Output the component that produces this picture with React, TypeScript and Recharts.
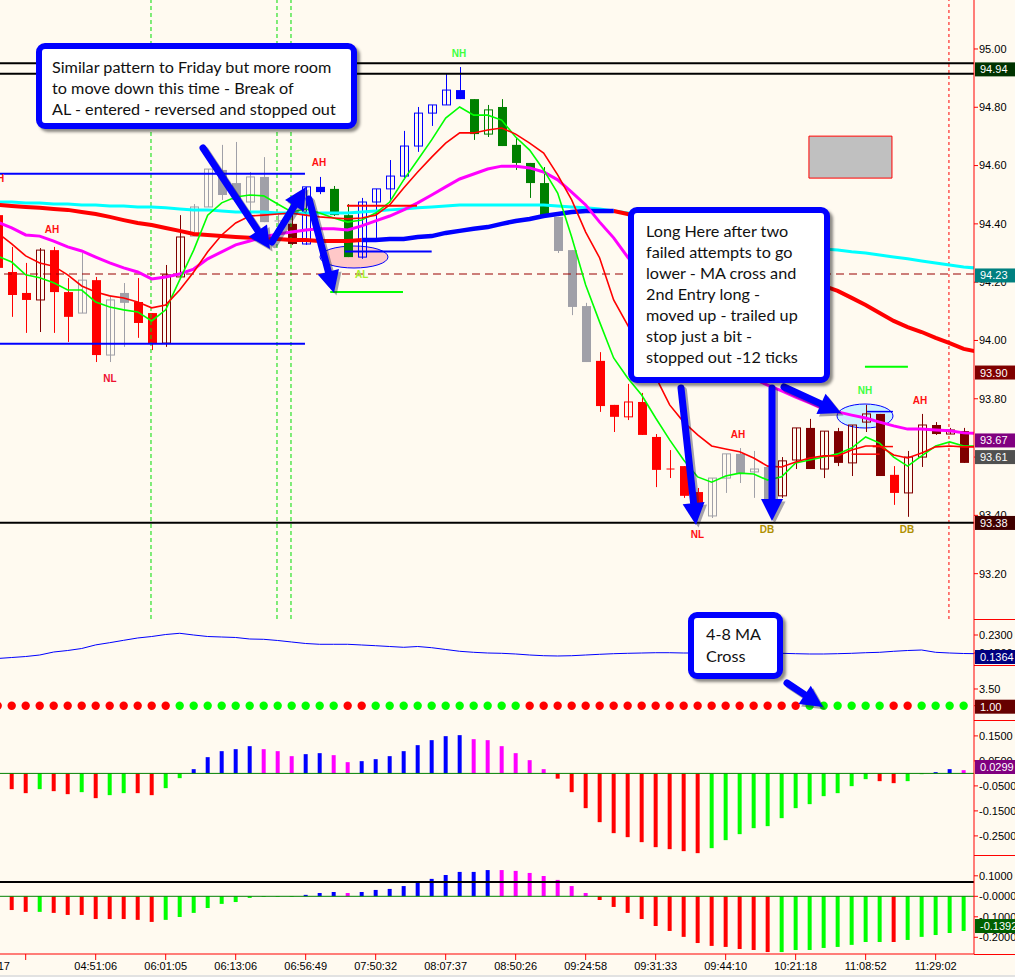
import React from 'react';
import { ComposedChart, Line, Bar, Cell, XAxis, YAxis, ReferenceLine, ReferenceDot, ReferenceArea } from 'recharts';

// ---- price bars (index 0 is the half-hidden bar at the left edge) ----
const opens = [
  94.430, 94.235, 94.163, 94.139, 94.310, 94.166, 94.094, 94.207, 93.950, 94.163,
  94.132, 94.094, 93.991, 94.218, 94.358, 94.458, 94.585, 94.540, 94.475, 94.561,
  94.410, 94.400, 94.331, 94.527, 94.520, 94.430, 94.286, 94.475, 94.520, 94.564,
  94.667, 94.780, 94.808, 94.859, 94.828, 94.708, 94.801, 94.671, 94.609, 94.540,
  94.424, 94.310, 94.118, 93.930, 93.779, 93.738, 93.789, 93.669, 93.559, 93.569,
  93.480, 93.398, 93.528, 93.611, 93.549, 93.566, 93.467, 93.590, 93.700, 93.559,
  93.689, 93.580, 93.720, 93.748, 93.539, 93.477, 93.600, 93.710, 93.679, 93.689,
];
const highs = [
  94.441, 94.321, 94.266, 94.317, 94.321, 94.214, 94.300, 94.218, 94.156, 94.197,
  94.214, 94.094, 94.259, 94.430, 94.468, 94.588, 94.671, 94.681, 94.578, 94.629,
  94.438, 94.496, 94.527, 94.561, 94.530, 94.468, 94.489, 94.520, 94.619, 94.719,
  94.801, 94.808, 94.914, 94.938, 94.828, 94.808, 94.828, 94.698, 94.609, 94.595,
  94.424, 94.310, 94.129, 93.960, 93.779, 93.851, 93.820, 93.679, 93.624, 93.569,
  93.494, 93.528, 93.611, 93.631, 93.621, 93.566, 93.600, 93.700, 93.731, 93.689,
  93.700, 93.710, 93.779, 93.748, 93.569, 93.621, 93.748, 93.720, 93.700, 93.700,
];
const lows = [
  94.225, 94.081, 94.026, 94.029, 94.026, 93.995, 94.094, 93.926, 93.926, 93.978,
  94.009, 93.967, 93.978, 94.218, 94.358, 94.458, 94.482, 94.472, 94.406, 94.406,
  94.372, 94.328, 94.328, 94.502, 94.427, 94.286, 94.280, 94.345, 94.482, 94.551,
  94.647, 94.736, 94.808, 94.828, 94.688, 94.698, 94.667, 94.585, 94.489, 94.427,
  94.300, 94.087, 93.926, 93.755, 93.686, 93.727, 93.676, 93.497, 93.528, 93.460,
  93.412, 93.391, 93.477, 93.511, 93.460, 93.429, 93.460, 93.559, 93.559, 93.528,
  93.569, 93.535, 93.686, 93.535, 93.436, 93.395, 93.566, 93.676, 93.679, 93.580,
];
const closes = [
  94.249, 94.156, 94.139, 94.310, 94.166, 94.081, 94.207, 93.950, 94.139, 94.129,
  94.060, 93.991, 94.225, 94.355, 94.458, 94.588, 94.499, 94.482, 94.561, 94.406,
  94.410, 94.331, 94.527, 94.509, 94.430, 94.286, 94.475, 94.520, 94.564, 94.667,
  94.780, 94.808, 94.859, 94.828, 94.708, 94.791, 94.667, 94.609, 94.540, 94.427,
  94.307, 94.115, 93.926, 93.775, 93.738, 93.789, 93.676, 93.556, 93.559, 93.467,
  93.429, 93.528, 93.611, 93.545, 93.559, 93.456, 93.587, 93.700, 93.559, 93.689,
  93.580, 93.710, 93.748, 93.535, 93.477, 93.600, 93.710, 93.679, 93.693, 93.580,
];
// r red, m maroon, g gray, b blue, d dark green
const candleTones = 'rrrmrrgrgg' + 'rrmmgggggg' + 'gmbbddbbbb' + 'bbbbdddddd' + 'gggrrrrrrr' + 'rgggggmmmm' + 'mmmmrmmmmm';

// ---- moving averages on the price panel (last value is where each line meets the axis) ----
const fastMa = [
  94.289, 94.269, 94.225, 94.215, 94.198, 94.173, 94.173, 94.132, 94.115, 94.105,
  94.098, 94.067, 94.105, 94.208, 94.310, 94.430, 94.472, 94.492, 94.499, 94.496,
  94.468, 94.441, 94.451, 94.437, 94.420, 94.406, 94.413, 94.437, 94.475, 94.551,
  94.619, 94.688, 94.763, 94.801, 94.773, 94.773, 94.756, 94.698, 94.653, 94.585,
  94.506, 94.355, 94.190, 94.063, 93.940, 93.871, 93.813, 93.734, 93.659, 93.590,
  93.532, 93.514, 93.535, 93.545, 93.542, 93.521, 93.532, 93.580, 93.590, 93.600,
  93.611, 93.631, 93.669, 93.648, 93.600, 93.569, 93.604, 93.638, 93.652, 93.638,
  93.638,
];
const midMa = [
  94.369, 94.331, 94.290, 94.266, 94.255, 94.225, 94.187, 94.166, 94.153, 94.146,
  94.132, 94.112, 94.122, 94.173, 94.235, 94.304, 94.362, 94.403, 94.427, 94.430,
  94.434, 94.437, 94.430, 94.424, 94.420, 94.417, 94.420, 94.430, 94.465, 94.523,
  94.578, 94.629, 94.677, 94.712, 94.712, 94.722, 94.729, 94.708, 94.677, 94.643,
  94.568, 94.482, 94.372, 94.283, 94.139, 94.053, 93.964, 93.875, 93.779, 93.720,
  93.676, 93.638, 93.628, 93.618, 93.597, 93.569, 93.566, 93.583, 93.597, 93.604,
  93.604, 93.624, 93.638, 93.638, 93.607, 93.597, 93.614, 93.635, 93.638, 93.635,
  93.635,
];
const magentaMa = [
  94.406, 94.386, 94.362, 94.358, 94.341, 94.321, 94.307, 94.286, 94.266, 94.249,
  94.235, 94.211, 94.218, 94.228, 94.245, 94.280, 94.304, 94.328, 94.341, 94.355,
  94.365, 94.372, 94.379, 94.383, 94.383, 94.379, 94.393, 94.410, 94.427, 94.448,
  94.472, 94.499, 94.527, 94.554, 94.571, 94.588, 94.598, 94.598, 94.592, 94.578,
  94.551, 94.509, 94.465, 94.406, 94.352, 94.286, 94.225, 94.166, 94.112, 94.060,
  94.012, 93.967, 93.930, 93.895, 93.868, 93.847, 93.827, 93.806, 93.786, 93.765,
  93.755, 93.744, 93.734, 93.720, 93.707, 93.696, 93.696, 93.693, 93.690, 93.683,
  93.681,
];
const cyanMa = [
  94.475, 94.475, 94.472, 94.472, 94.468, 94.468, 94.465, 94.465, 94.461, 94.461,
  94.458, 94.458, 94.455, 94.451, 94.448, 94.448, 94.444, 94.441, 94.441, 94.441,
  94.437, 94.437, 94.437, 94.437, 94.437, 94.437, 94.441, 94.444, 94.448, 94.451,
  94.455, 94.458, 94.461, 94.465, 94.465, 94.465, 94.465, 94.465, 94.465, 94.465,
  94.461, 94.458, 94.455, 94.451, 94.444, 94.437, 94.430, 94.424, 94.413, 94.406,
  94.396, 94.386, 94.376, 94.365, 94.355, 94.345, 94.334, 94.328, 94.321, 94.314,
  94.310, 94.304, 94.300, 94.293, 94.286, 94.280, 94.273, 94.266, 94.259, 94.252,
  94.248,
];
const slowMa = [
  94.465, 94.461, 94.458, 94.455, 94.451, 94.448, 94.441, 94.434, 94.424, 94.413,
  94.403, 94.396, 94.386, 94.376, 94.365, 94.362, 94.358, 94.355, 94.352, 94.348,
  94.348, 94.345, 94.345, 94.341, 94.341, 94.341, 94.345, 94.345, 94.348, 94.348,
  94.355, 94.358, 94.369, 94.376, 94.383, 94.389, 94.400, 94.410, 94.417, 94.427,
  94.434, 94.441, 94.444, 94.444, 94.444, 94.434, 94.420, 94.403, 94.386, 94.365,
  94.345, 94.324, 94.304, 94.283, 94.266, 94.249, 94.232, 94.214, 94.201, 94.187,
  94.170, 94.146, 94.122, 94.094, 94.067, 94.046, 94.029, 94.009, 93.991, 93.971,
  93.961,
];
const slowRisingFrom = 26;
const slowRisingTo = 44;

// ---- lower panels ----
const oscLine = [
  0.1256, 0.1300, 0.1344, 0.1411, 0.1544, 0.1611, 0.1700, 0.1860, 0.1958, 0.2064,
  0.2167, 0.2233, 0.2322, 0.2376, 0.2300, 0.2233, 0.2211, 0.2189, 0.2122, 0.2109,
  0.2056, 0.1989, 0.1922, 0.1887, 0.1887, 0.1887, 0.1856, 0.1824, 0.1789, 0.1753,
  0.1789, 0.1736, 0.1656, 0.1576, 0.1531, 0.1500, 0.1487, 0.1456, 0.1411, 0.1380,
  0.1367, 0.1380, 0.1411, 0.1442, 0.1469, 0.1487, 0.1500, 0.1513, 0.1513, 0.1500,
  0.1500, 0.1500, 0.1500, 0.1500, 0.1493, 0.1490, 0.1487, 0.1469, 0.1456, 0.1456,
  0.1469, 0.1487, 0.1513, 0.1531, 0.1576, 0.1611, 0.1633, 0.1531, 0.1500, 0.1478,
  0.1469,
];
const dotTones = 'rrrrrrrrrr' + 'rrrggggggg' + 'gggggrrggg' + 'ggggggggrr' + 'rrrrrrrrrr' + 'rrrrrrrrgg' + 'ggggrrgggg';
const hist1 = [
  -0.060, -0.063, -0.079, -0.063, -0.071, -0.083, -0.075, -0.099, -0.087, -0.079,
  -0.079, -0.087, -0.059, -0.019, 0.017, 0.065, 0.089, 0.097, 0.109, 0.097,
  0.089, 0.069, 0.077, 0.081, 0.073, 0.045, 0.049, 0.057, 0.069, 0.089,
  0.113, 0.133, 0.149, 0.153, 0.137, 0.133, 0.109, 0.081, 0.053, 0.017,
  -0.021, -0.075, -0.139, -0.195, -0.239, -0.255, -0.275, -0.295, -0.303, -0.311,
  -0.319, -0.299, -0.267, -0.243, -0.219, -0.211, -0.179, -0.139, -0.123, -0.091,
  -0.079, -0.051, -0.023, -0.031, -0.039, -0.031, -0.003, 0.005, 0.017, 0.013,
];
const hist1Tones = 'rrrgrrgrgg' + 'rrggbbbbbm' + 'mmbbmmbbbb' + 'bbbbmmmmmm' + 'rrrrrrrrrr' + 'rggggggggg' + 'gggrrggbbm';
const hist2 = [
  -0.060, -0.067, -0.076, -0.076, -0.081, -0.091, -0.091, -0.111, -0.111, -0.111,
  -0.115, -0.125, -0.115, -0.101, -0.081, -0.057, -0.037, -0.028, -0.008, -0.003,
  -0.003, -0.003, 0.007, 0.016, 0.021, 0.016, 0.021, 0.031, 0.036, 0.050,
  0.070, 0.085, 0.104, 0.119, 0.119, 0.128, 0.128, 0.124, 0.114, 0.099,
  0.080, 0.050, 0.016, -0.018, -0.052, -0.081, -0.111, -0.145, -0.169, -0.198,
  -0.228, -0.242, -0.247, -0.257, -0.262, -0.272, -0.272, -0.262, -0.262, -0.252,
  -0.247, -0.237, -0.223, -0.223, -0.223, -0.213, -0.198, -0.189, -0.179, -0.169,
];
const hist2Tones = 'rrrgrrrrrr' + 'rrgggggggg' + 'ggbbbmbbbb' + 'bbbbbbmmmm' + 'mmmrrrrrrr' + 'rrrrrrgggg' + 'ggggrggggg';

// ---- axes ----
const priceTicks = [95, 94.8, 94.6, 94.4, 94.2, 94, 93.8, 93.6, 93.4, 93.2];
const oscTicks = [0.23, 0.15];
const dotTicks = [3.5, 1];
const hist1Ticks = [0.15, 0.05, -0.05, -0.15, -0.25];
const hist2Ticks = [0.1, 0, -0.1, -0.2];
const timeTicks = [2, 7, 12, 17, 22, 27, 32, 37, 42, 47, 52, 57, 62, 67];
const timeLabels = ['', '04:51:06', '06:01:05', '06:13:06', '06:56:49', '07:50:32', '08:07:37', '08:50:26', '09:24:58', '09:31:33', '09:44:10', '10:21:18', '11:08:52', '11:29:02'];

// ---- drawn objects on the price panel (bar index / price) ----
const sessionBreaks = [10.95, 19.95, 20.95];
const lastSessionBreak = 67.95;
const levels = [
  { y: 94.951, color: '#000000', width: 2, dash: undefined },
  { y: 94.915, color: '#000000', width: 2, dash: undefined },
  { y: 93.375, color: '#000000', width: 2, dash: undefined },
  { y: 94.228, color: '#990000', width: 1.2, dash: '8 5' },
];
const segments = [
  { x1: 0.164, x2: 21.95, y: 94.572, color: '#0000ff', width: 2 },
  { x1: 0.164, x2: 21.95, y: 93.989, color: '#0000ff', width: 2 },
  { x1: 24.8, x2: 31.0, y: 94.305, color: '#0000ff', width: 2 },
  { x1: 24.95, x2: 29.95, y: 94.462, color: '#ff0000', width: 2 },
  { x1: 23.75, x2: 28.95, y: 94.166, color: '#00ff00', width: 2 },
  { x1: 61.95, x2: 65.02, y: 93.910, color: '#00ff00', width: 2 },
  { x1: 61.0, x2: 63.0, y: 93.610, color: '#ff0000', width: 1.5 },
  { x1: 62.5, x2: 63.95, y: 93.636, color: '#ff0000', width: 1.5 },
  { x1: 62.1, x2: 63.95, y: 93.756, color: '#0000ff', width: 1.5 },
];
const grayBox = { x1: 57.95, x2: 63.88, y1: 94.557, y2: 94.701 };
const tags = [
  { i: -0.05, p: 94.554, text: 'AH', color: '#ff1010' },
  { i: 3.88, p: 94.379, text: 'AH', color: '#ff1010' },
  { i: 8.02, p: 93.871, text: 'NL', color: '#ee1030' },
  { i: 22.95, p: 94.612, text: 'AH', color: '#ff1010' },
  { i: 26.0, p: 94.228, text: 'AL', color: '#a8f030' },
  { i: 32.95, p: 94.986, text: 'NH', color: '#40ff40' },
  { i: 49.99, p: 93.336, text: 'NL', color: '#ff1010' },
  { i: 52.88, p: 93.679, text: 'AH', color: '#ff1010' },
  { i: 54.95, p: 93.352, text: 'DB', color: '#b09000' },
  { i: 61.95, p: 93.830, text: 'NH', color: '#40ff40' },
  { i: 64.95, p: 93.352, text: 'DB', color: '#b09000' },
  { i: 65.88, p: 93.793, text: 'AH', color: '#ff1010' },
];
const priceFlags = [
  { level: 94.930, text: '94.94', bg: '#003300' },
  { level: 94.223, text: '94.23', bg: '#008080' },
  { level: 93.890, text: '93.90', bg: '#800000' },
  { level: 93.657, text: '93.67', bg: '#800080' },
  { level: 93.600, text: '93.61', bg: '#505050' },
  { level: 93.374, text: '93.38', bg: '#400000' },
];
const oscFlags = [{ level: 0.1322, text: '0.1364', bg: '#000080' }];
const dotFlags = [{ level: 0.85, text: '1.00', bg: '#660000' }];
const hist1Flags = [{ level: 0.0256, text: '0.0299', bg: '#800080' }];
const hist2Flags = [{ level: -0.145, text: '-0.1392', bg: '#006000' }];
const hist2Guide = 0.07;

const BAR_COUNT = opens.length;
const rows = fastMa.map((fast, i) => {
  const bar = i < BAR_COUNT;
  return {
    i,
    range: bar ? [lows[i], highs[i]] : null,
    open: opens[i],
    high: highs[i],
    low: lows[i],
    close: closes[i],
    tone: candleTones[i],
    fast,
    mid: midMa[i],
    magenta: magentaMa[i],
    cyan: cyanMa[i],
    slowRed: i <= slowRisingFrom || i >= slowRisingTo ? slowMa[i] : null,
    slowBlue: i >= slowRisingFrom && i <= slowRisingTo ? slowMa[i] : null,
    osc: oscLine[i],
    dot: bar ? 1 : null,
    dotTone: dotTones[i],
    h1: bar ? hist1[i] : null,
    h1Tone: hist1Tones[i],
    h2: bar ? hist2[i] : null,
    h2Tone: hist2Tones[i],
  };
});

const W = 1015;
const AXIS_W = 41;
const BG = '#fffaf0';
const AXIS_FONT = '"Liberation Sans", Arial, sans-serif';
const X_DOMAIN: [number, number] = [0.164, 69.74];
const CANDLE_COLORS: Record<string, string> = { r: '#ff0000', m: '#800000', g: '#a0a0a8', b: '#0000ff', d: '#008000' };
const OSC_COLORS: Record<string, string> = { r: '#ff0000', g: '#00ff00', b: '#0000ff', m: '#ff00ff' };
const MARGIN = { top: 0, right: 0, bottom: 0, left: 0 };

function Candle(props: any) {
  const { x, y, width, height, payload } = props;
  if (x == null || y == null || payload == null || payload.high == null) return null;
  const color = CANDLE_COLORS[payload.tone];
  const top = Math.min(y, y + height);
  const h = Math.abs(height);
  const span = payload.high - payload.low || 1;
  const py = (v: number) => top + ((payload.high - v) / span) * h;
  const cx = Math.round(x + width / 2) + 0.5;
  const bTop = py(Math.max(payload.open, payload.close));
  const bBot = py(Math.min(payload.open, payload.close));
  const left = cx - 4;
  let body;
  if (payload.open === payload.close) {
    body = <line x1={left} x2={left + 8} y1={bTop} y2={bTop} stroke={color} strokeWidth={1} />;
  } else if (payload.close < payload.open) {
    body = <rect x={left - 0.5} y={bTop} width={9} height={Math.max(bBot - bTop, 1)} fill={color} />;
  } else {
    body = <rect x={left} y={bTop} width={8} height={Math.max(bBot - bTop, 1)} fill="none" stroke={color} strokeWidth={1} />;
  }
  return (
    <g>
      <line x1={cx} x2={cx} y1={top} y2={top + h} stroke={color} strokeWidth={1} />
      {body}
    </g>
  );
}

function Flag(props: any) {
  const { viewBox, text, bg } = props;
  if (!viewBox) return null;
  const x = viewBox.x + viewBox.width + 1;
  const y = viewBox.y;
  return (
    <g>
      <rect x={x} y={y - 7} width={AXIS_W} height={14} fill={bg} />
      <text x={x + 5} y={y + 4} fill="#ffffff" fontSize={11} fontFamily={AXIS_FONT}>{text}</text>
    </g>
  );
}

function Tag(props: any) {
  const { viewBox, text, color } = props;
  if (!viewBox) return null;
  return (
    <text x={viewBox.x + viewBox.width / 2} y={viewBox.y + viewBox.height / 2 + 3.5} textAnchor="middle"
      fill={color} fontSize={10} fontWeight={700} fontFamily={AXIS_FONT}>{text}</text>
  );
}

function xAxis() {
  return <XAxis dataKey="i" type="number" domain={X_DOMAIN} allowDataOverflow hide />;
}

function yAxis(domain: [number, number], ticks: number[], fmt: (v: number) => string) {
  return (
    <YAxis orientation="right" type="number" width={AXIS_W} domain={domain} allowDataOverflow ticks={ticks} interval={0}
      tickFormatter={fmt} axisLine={{ stroke: '#ff0000' }} tickLine={{ stroke: '#ff0000' }} tickSize={4} tickMargin={1}
      tick={{ fill: '#000000', fontSize: 11, fontFamily: AXIS_FONT }} />
  );
}

// last-value flags sit over the tick labels, so they get their own layer with the same scales
function FlagLayer({ top, height, domain, flags }: { top: number; height: number; domain: [number, number]; flags: { level: number; text: string; bg: string }[] }) {
  return (
    <div style={{ position: 'absolute', left: 0, top }}>
      <ComposedChart width={W} height={height} data={rows} margin={MARGIN}>
        {xAxis()}
        <YAxis orientation="right" type="number" width={AXIS_W} domain={domain} allowDataOverflow tick={false} axisLine={false} tickLine={false} />
        {flags.map((fl) => (
          <ReferenceLine key={fl.text} y={fl.level} stroke="none" label={<Flag text={fl.text} bg={fl.bg} />} />
        ))}
      </ComposedChart>
    </div>
  );
}

const f2 = (v: number) => v.toFixed(2);
const f4 = (v: number) => (v === 0 ? '-0.0000' : v.toFixed(4));

function Arrow({ from, to }: { from: number[]; to: number[] }) {
  const [x1, y1] = from;
  const [x2, y2] = to;
  const len = Math.hypot(x2 - x1, y2 - y1);
  const ux = (x2 - x1) / len;
  const uy = (y2 - y1) / len;
  const headL = 22;
  const headW = 11;
  const bx = x2 - ux * headL;
  const by = y2 - uy * headL;
  const pts = `${x2},${y2} ${bx - uy * headW},${by + ux * headW} ${bx + uy * headW},${by - ux * headW}`;
  const shape = (color: string) => (
    <>
      <line x1={x1} y1={y1} x2={bx + ux * 3} y2={by + uy * 3} stroke={color} strokeWidth={7} strokeLinecap="round" />
      <polygon points={pts} fill={color} />
    </>
  );
  return (
    <g>
      <g transform="translate(2.5,2.5)" opacity={0.4}>{shape('#202040')}</g>
      {shape('#0000ff')}
    </g>
  );
}

const arrows = [
  { from: [203, 148], to: [270, 249] },
  { from: [272, 242], to: [306, 187] },
  { from: [309, 199], to: [334, 293] },
  { from: [681, 388], to: [696, 525] },
  { from: [772, 388], to: [772, 521] },
  { from: [784, 387], to: [841, 413] },
  { from: [787, 683], to: [823, 707] },
];

const callouts = [
  { left: 36, top: 43, width: 321, height: 86, padTop: 6.8, padLeft: 10, lineHeight: 21.2, lines: ['Similar pattern to Friday but more room', 'to move down this time - Break of', 'AL - entered - reversed and stopped out'] },
  { left: 628, top: 207, width: 202, height: 176, padTop: 6.8, padLeft: 12, lineHeight: 21.1, lines: ['Long Here after two', 'failed attempts to go', 'lower - MA cross and', '2nd Entry long -', 'moved up - trailed up', 'stop just a bit -', 'stopped out -12 ticks'] },
  { left: 688, top: 612, width: 95, height: 67, padTop: 5.3, padLeft: 12, lineHeight: 22, lines: ['4-8 MA', 'Cross'] },
];

export default function App() {
  return (
    <div style={{ position: 'absolute', left: 0, top: 0, width: W, height: 977, background: BG, overflow: 'hidden' }}>
      {/* highlight ellipses drawn beneath the bars */}
      <svg width={W} height={977} style={{ position: 'absolute', left: 0, top: 0 }}>
        <ellipse cx={354} cy={257} rx={34} ry={11} fill="#ffc8c8" stroke="#0000ff" strokeWidth={1} />
        <ellipse cx={865} cy={416} rx={28} ry={12} fill="#ccf2ff" stroke="#0000ff" strokeWidth={1} />
      </svg>

      <div style={{ position: 'absolute', left: 0, top: 0 }}>
        <ComposedChart width={W} height={619} data={rows} margin={MARGIN}>
          {xAxis()}
          {yAxis([93.0445, 95.168], priceTicks, f2)}
          {sessionBreaks.map((x) => (
            <ReferenceLine key={x} x={x} stroke="#00dd00" strokeDasharray="4 3" strokeWidth={1} />
          ))}
          <ReferenceLine x={lastSessionBreak} stroke="#ff0000" strokeDasharray="3 3" strokeWidth={1} />
          {levels.map((l) => (
            <ReferenceLine key={l.y} y={l.y} stroke={l.color} strokeWidth={l.width} strokeDasharray={l.dash} />
          ))}
          <ReferenceArea x1={grayBox.x1} x2={grayBox.x2} y1={grayBox.y1} y2={grayBox.y2} fill="#c0c0c0" fillOpacity={1} stroke="#ff0000" strokeWidth={1} />
          <Line dataKey="cyan" stroke="#00ffff" strokeWidth={3} dot={false} isAnimationActive={false} />
          <Line dataKey="slowRed" stroke="#ff0000" strokeWidth={4} dot={false} isAnimationActive={false} />
          <Line dataKey="slowBlue" stroke="#0000ff" strokeWidth={4.5} dot={false} isAnimationActive={false} />
          <Line dataKey="magenta" stroke="#ff00ff" strokeWidth={3} dot={false} isAnimationActive={false} />
          <Line dataKey="fast" stroke="#00ff00" strokeWidth={1.6} dot={false} isAnimationActive={false} />
          <Line dataKey="mid" stroke="#ff0000" strokeWidth={1.6} dot={false} isAnimationActive={false} />
          <Bar dataKey="range" barSize={8} isAnimationActive={false} shape={(p: any) => <Candle {...p} />} />
          {segments.map((s, k) => (
            <ReferenceLine key={`s${k}`} segment={[{ x: s.x1, y: s.y }, { x: s.x2, y: s.y }]} stroke={s.color} strokeWidth={s.width} />
          ))}
          {tags.map((t, k) => (
            <ReferenceDot key={`t${k}`} x={t.i} y={t.p} r={0} stroke="none" fill="none" ifOverflow="visible"
              label={<Tag text={t.text} color={t.color} />} />
          ))}
        </ComposedChart>
      </div>

      <div style={{ position: 'absolute', left: 0, top: 619 }}>
        <ComposedChart width={W} height={46} data={rows} margin={MARGIN}>
          {xAxis()}
          {yAxis([0.0967, 0.3011], oscTicks, (v) => v.toFixed(4))}
          <Line dataKey="osc" stroke="#0000ff" strokeWidth={1} dot={false} isAnimationActive={false} />
        </ComposedChart>
      </div>

      <div style={{ position: 'absolute', left: 0, top: 665 }}>
        <ComposedChart width={W} height={55} data={rows} margin={MARGIN}>
          {xAxis()}
          {yAxis([-1.141, 7.093], dotTicks, f2)}
          <Line dataKey="dot" stroke="none" isAnimationActive={false}
            dot={(p: any) => (p.cy == null || p.payload.dot == null
              ? <g key={`d${p.index}`} />
              : <circle key={`d${p.index}`} cx={p.cx} cy={p.cy} r={4.2} fill={OSC_COLORS[p.payload.dotTone]} />)} />
        </ComposedChart>
      </div>

      <div style={{ position: 'absolute', left: 0, top: 720 }}>
        <ComposedChart width={W} height={135} data={rows} margin={MARGIN}>
          {xAxis()}
          {yAxis([-0.3264, 0.2136], hist1Ticks, f4)}
          <Bar dataKey="h1" barSize={4} isAnimationActive={false}>
            {rows.map((r) => <Cell key={r.i} fill={OSC_COLORS[r.h1Tone] ?? 'none'} />)}
          </Bar>
          <ReferenceLine y={0} stroke="#008000" strokeWidth={1} />
        </ComposedChart>
      </div>

      <div style={{ position: 'absolute', left: 0, top: 855 }}>
        <ComposedChart width={W} height={122} data={rows} margin={MARGIN}>
          <XAxis dataKey="i" type="number" domain={X_DOMAIN} allowDataOverflow ticks={timeTicks} interval={0} height={23}
            tickFormatter={(v: number) => timeLabels[timeTicks.indexOf(v)] ?? ''}
            axisLine={{ stroke: '#ff0000' }} tickLine={{ stroke: '#ff0000' }} tickSize={6} tickMargin={2}
            tick={{ fill: '#000000', fontSize: 11, fontFamily: AXIS_FONT }} />
          {yAxis([-0.2815, 0.2015], hist2Ticks, f4)}
          <ReferenceLine y={hist2Guide} stroke="#000000" strokeWidth={2} />
          <Bar dataKey="h2" barSize={4} isAnimationActive={false}>
            {rows.map((r) => <Cell key={r.i} fill={OSC_COLORS[r.h2Tone] ?? 'none'} />)}
          </Bar>
          <ReferenceLine y={0} stroke="#008000" strokeWidth={1} />
        </ComposedChart>
      </div>

      <FlagLayer top={0} height={619} domain={[93.0445, 95.168]} flags={priceFlags} />
      <FlagLayer top={619} height={46} domain={[0.0967, 0.3011]} flags={oscFlags} />
      <FlagLayer top={665} height={55} domain={[-1.141, 7.093]} flags={dotFlags} />
      <FlagLayer top={720} height={135} domain={[-0.3264, 0.2136]} flags={hist1Flags} />
      <FlagLayer top={855} height={99} domain={[-0.2815, 0.2015]} flags={hist2Flags} />

      {/* annotations on top */}
      <svg width={W} height={977} style={{ position: 'absolute', left: 0, top: 0, pointerEvents: 'none' }}>
        {[619, 665, 720, 855, 954].map((y) => (
          <line key={y} x1={974} x2={W} y1={y + 0.5} y2={y + 0.5} stroke="#ff0000" strokeWidth={1} />
        ))}
        <text x={10} y={969.5} textAnchor="end" fontSize={11} fontFamily={AXIS_FONT} fill="#000">17</text>
        {arrows.map((a, k) => <Arrow key={k} from={a.from} to={a.to} />)}
      </svg>
      {callouts.map((c, k) => (
        <div key={k} style={{
          position: 'absolute', left: c.left, top: c.top, width: c.width, height: c.height, boxSizing: 'border-box',
          border: '6px solid #0000ff', borderRadius: 9, background: '#ffffff', boxShadow: '3px 3px 3px rgba(0,0,0,0.45)',
          padding: `${c.padTop}px 0 0 ${c.padLeft}px`, fontFamily: 'Lato, "Open Sans", sans-serif', fontSize: 16.2,
          lineHeight: `${c.lineHeight}px`, color: '#111111', whiteSpace: 'nowrap', overflow: 'hidden',
        }}>
          {c.lines.map((l) => <div key={l}>{l}</div>)}
        </div>
      ))}
      <div style={{ position: 'absolute', left: 0, top: 975, width: W, height: 2, background: '#e2e2e2' }} />
    </div>
  );
}
